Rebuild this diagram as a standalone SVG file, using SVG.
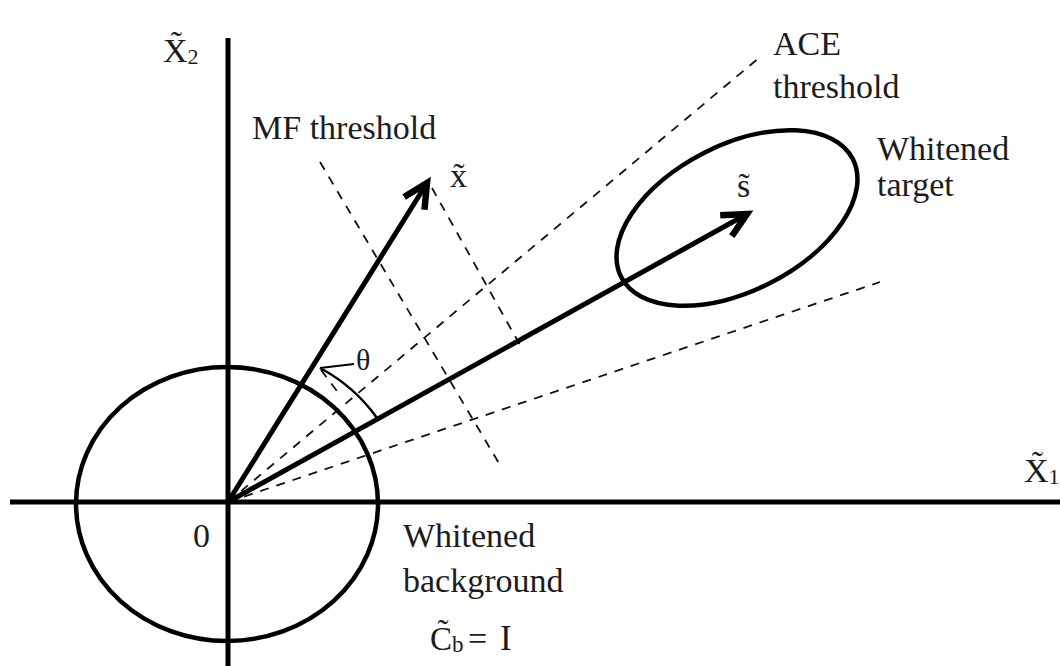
<svg xmlns="http://www.w3.org/2000/svg" width="1060" height="666" viewBox="0 0 1060 666">
<style>
text{font-family:"Liberation Serif","Times New Roman",serif;fill:#1c1c1c;font-size:34px}
.sub{font-size:22px}
.axis{stroke:#000;stroke-width:5;fill:none}
.vec{stroke:#000;stroke-width:5;fill:none}
.dash{stroke:#111;stroke-width:1.8;stroke-dasharray:9 8;fill:none}
.ring{stroke:#000;stroke-width:4.5;fill:none}
</style>
<defs>
<marker id="chev" markerUnits="userSpaceOnUse" markerWidth="44" markerHeight="44" viewBox="-36 -22 44 44" refX="0" refY="0" orient="auto">
<path d="M-24,-12 L0,0 L-24,12" fill="none" stroke="#000" stroke-width="6.5" stroke-linejoin="miter"/>
</marker>
</defs>
<rect width="1060" height="666" fill="#fff"/>
<g id="axes">
<line class="axis" x1="10" y1="502" x2="1060" y2="502"/>
<line class="axis" x1="228" y1="38" x2="228" y2="666" stroke-width="6"/>
<text x="163" y="62">X̃<tspan class="sub" dy="2">2</tspan></text>
<text x="1024" y="482">X̃<tspan class="sub" dy="2">1</tspan></text>
<text x="193" y="547">0</text>
</g>
<g id="background">
<ellipse class="ring" cx="227" cy="504" rx="151" ry="137"/>
<text x="403" y="547">Whitened</text>
<text x="403" y="592">background</text>
<text x="430" y="650"><tspan style="font-size:33px">C̃</tspan><tspan style="font-size:23px" dy="2">b</tspan><tspan x="468" dy="-2">=</tspan><tspan x="500" style="font-size:35px">I</tspan></text>
</g>
<g id="target">
<ellipse class="ring" cx="737" cy="218" rx="130" ry="73" transform="rotate(-27 737 218)" stroke-width="5"/>
<text x="877" y="160">Whitened</text>
<text x="877" y="196">target</text>
</g>
<g id="connectors">
<line class="dash" x1="228" y1="502" x2="760" y2="57"/>
<line class="dash" x1="228" y1="502" x2="880" y2="282"/>
<line class="dash" x1="320" y1="162" x2="500" y2="465"/>
<line class="dash" x1="432" y1="188" x2="520" y2="345"/>
<line class="dash" x1="321" y1="370" x2="337" y2="391"/>
<line class="vec" x1="228" y1="502" x2="427" y2="183" marker-end="url(#chev)"/>
<line class="vec" x1="228" y1="502" x2="747" y2="214" marker-end="url(#chev)"/>
<path d="M320,368 A165 165 0 0 1 377,418" fill="none" stroke="#000" stroke-width="2.5"/>
<line x1="320" y1="368" x2="354" y2="364" stroke="#000" stroke-width="2"/>
</g>
<g id="labels">
<text x="252" y="139">MF threshold</text>
<text x="773" y="55">ACE</text>
<text x="773" y="98">threshold</text>
<text x="450" y="187">x̃</text>
<text x="737" y="197">s̃</text>
<text x="356" y="370" style="font-size:30px">θ</text>
</g>
</svg>
